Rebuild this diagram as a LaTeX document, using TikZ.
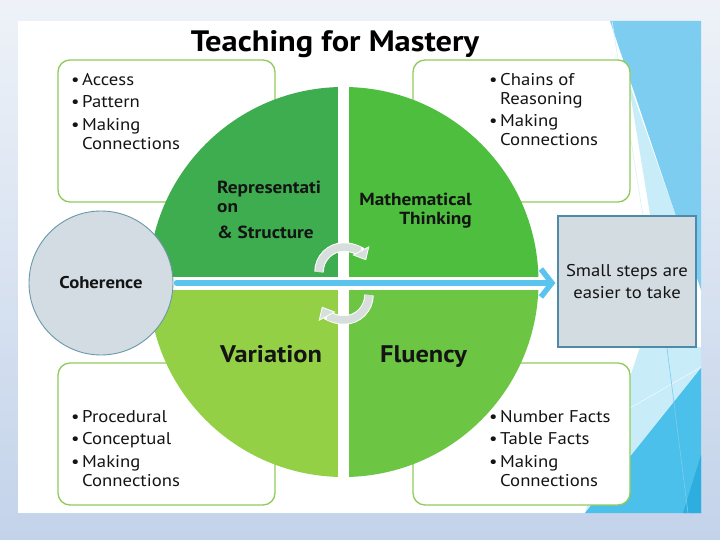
\documentclass[tikz,border=0pt]{standalone}
\usepackage{fontspec}
\setmainfont[FakeStretch=1.1]{PT Sans}
\usetikzlibrary{arrows.meta}
\definecolor{bgtop}{HTML}{EEF2F8}
\definecolor{bgbot}{HTML}{C3D3EA}
\definecolor{boxgreen}{HTML}{8FCB5A}
\definecolor{qtl}{HTML}{3EAD4F}
\definecolor{qtr}{HTML}{4DBE3E}
\definecolor{qbl}{HTML}{93D046}
\definecolor{qbr}{HTML}{6DC544}
\definecolor{cohfill}{HTML}{D2DCE2}
\definecolor{cohdraw}{HTML}{6A97AB}
\definecolor{stepfill}{HTML}{D3DCE1}
\definecolor{stepdraw}{HTML}{4F8BA9}
\definecolor{arrblue}{HTML}{5BC4EE}
\definecolor{cycgrey}{HTML}{D6DFDC}
\definecolor{txt}{HTML}{141414}
\definecolor{decmed}{HTML}{7CCDF0}
\definecolor{declight}{HTML}{C9ECF9}
\definecolor{decdark}{HTML}{4BC0EA}
\definecolor{decdeep}{HTML}{2EADDF}
\newcommand{\bul}{\makebox[11pt][l]{\textbullet}}
\newcommand{\ind}{\hspace*{11pt}}
\begin{document}
\begin{tikzpicture}[x=1pt,y=-1pt,
  gbox/.style={draw=boxgreen,line width=1.3pt,fill=white,rounded corners=12pt},
  btext/.style={anchor=north west,inner sep=0pt,align=left,text=txt,font=\fontsize{17}{19}\selectfont},
  qhead/.style={inner sep=0pt,text=txt,font=\bfseries\fontsize{17.5}{18.7}\selectfont},
  qbig/.style={anchor=base west,inner sep=0pt,text=txt,font=\bfseries\fontsize{24}{26}\selectfont},
  cyc/.style={draw=cycgrey,line width=7.5pt,-{Triangle[length=11pt,width=19pt,fill=cycgrey,color=white,line width=0.8pt]},preaction={draw=white,line width=9.5pt,-,shorten >=9pt}},
]
\useasboundingbox (0,0) rectangle (720,540);
% background
\shade[top color=bgtop,bottom color=bgbot] (0,0) rectangle (720,540);
\fill[white] (18,21) rectangle (701,513);
% right-hand decoration
\fill[declight] (628,80) -- (686,245) -- (655,245) -- cycle;
\fill[decmed] (610,21) -- (701,21) -- (701,290) -- cycle;
\draw[color=declight!70!white,line width=0.6pt] (612,21) -- (643,216);
\fill[declight] (640,347) -- (701,347) -- (701,368) -- (585,513) -- cycle;
\fill[decdark] (585,513) -- (701,368) -- (701,513) -- cycle;
\fill[decdeep] (683,513) -- (701,455) -- (701,513) -- cycle;
\draw[color=white!70!declight,line width=0.6pt] (630,408) -- (701,367);
\draw[color=decmed,line width=0.6pt] (667,348) -- (688,513);
% title
\node[anchor=base,inner sep=0pt,text=black,font=\bfseries\fontsize{29.5}{31}\selectfont] (title) at (335,52) {Teaching for Mastery};
% rounded boxes
\draw[gbox] (58,60) rectangle (275,202);
\draw[gbox] (413,60) rectangle (630,202);
\draw[gbox] (58,363) rectangle (275,505);
\draw[gbox] (413,363) rectangle (630,505);
\node[btext] (tltext) at (71,73) {\bul Access\\[3.5pt]\bul Pattern\\[3.5pt]\bul Making\\\ind Connections};
\node[btext] (trtext) at (489,73) {\bul Chains of\\\ind Reasoning\\[3.5pt]\bul Making\\\ind Connections};
\node[btext] (bltext) at (71,410) {\bul Procedural\\[3.5pt]\bul Conceptual\\[3.5pt]\bul Making\\\ind Connections};
\node[btext] (brtext) at (489,410) {\bul Number Facts\\[3.5pt]\bul Table Facts\\[3.5pt]\bul Making\\\ind Connections};
% big circle
\coordinate (C) at (343.5,282);
\fill[qtl] (C) -- +(-195,0) arc[start angle=180,end angle=270,radius=195] -- cycle;
\fill[qtr] (C) -- +(0,-195) arc[start angle=270,end angle=360,radius=195] -- cycle;
\fill[qbr] (C) -- +(195,0) arc[start angle=0,end angle=90,radius=195] -- cycle;
\fill[qbl] (C) -- +(0,195) arc[start angle=90,end angle=180,radius=195] -- cycle;
\fill[white] (338,84) rectangle (349,480);
\fill[white] (150,277) rectangle (540,290);
% quadrant labels
\node[qhead,anchor=north west,align=left] (rep) at (217,181) {Representati\\on\\[7.5pt]\& Structure};
\node[qhead,anchor=north east,align=right] (math) at (472,193) {Mathematical\\Thinking};
\node[qbig] (var) at (220,362.7) {Variation};
\node[qbig] (flu) at (380,362.7) {Fluency};
% cycle arrows
\draw[cyc] (319,272) arc[start angle=180,end angle=332,radius=25];
\draw[cyc] (369,295) arc[start angle=0,end angle=152,radius=25];
% coherence and steps
\node[circle,draw=cohdraw,line width=0.9pt,fill=cohfill,minimum size=144pt,inner sep=0pt,text=txt,font=\bfseries\fontsize{17}{19}\selectfont] (coh) at (101,283) {Coherence};
\node[draw=stepdraw,line width=1.2pt,fill=stepfill,minimum width=138pt,minimum height=131pt,inner sep=0pt,align=center,text=txt,font=\fontsize{17}{22}\selectfont] (steps) at (627,281.5) {Small steps are\\easier to take};
\draw[arrblue,line width=5.5pt,line cap=round,shorten <=3pt,shorten >=2pt,-{Straight Barb[length=11pt,width=28pt]}] (coh.east) -- (coh.east -| steps.west);
\end{tikzpicture}
\end{document}
